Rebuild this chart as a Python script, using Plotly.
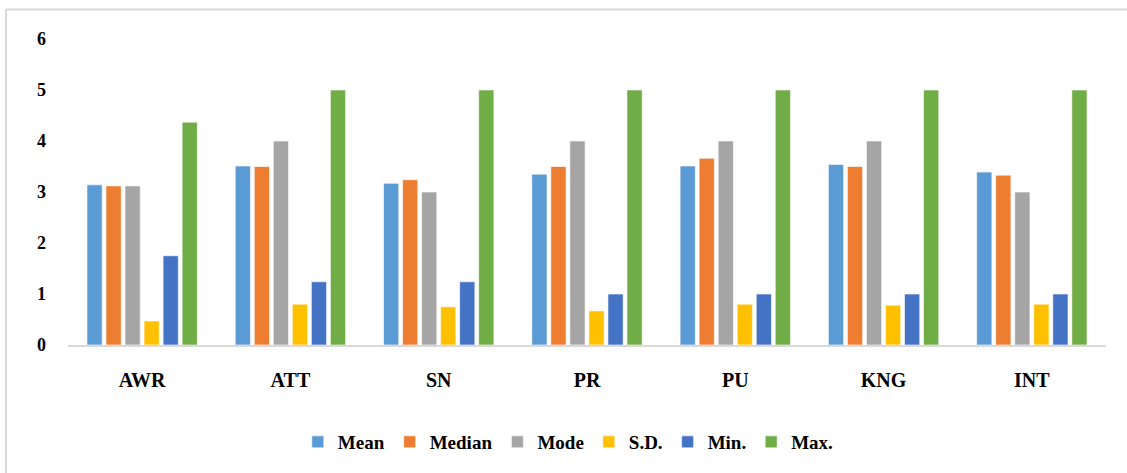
import plotly.graph_objects as go

categories = ["AWR", "ATT", "SN", "PR", "PU", "KNG", "INT"]
mean_vals = [3.14, 3.51, 3.17, 3.35, 3.51, 3.54, 3.39]
median_vals = [3.12, 3.50, 3.24, 3.50, 3.66, 3.50, 3.33]
mode_vals = [3.12, 4.00, 3.00, 4.00, 4.00, 4.00, 3.00]
sd_vals = [0.47, 0.80, 0.75, 0.67, 0.80, 0.78, 0.80]
min_vals = [1.75, 1.24, 1.24, 1.00, 1.00, 1.00, 1.00]
max_vals = [4.37, 5.00, 5.00, 5.00, 5.00, 5.00, 5.00]
y_ticks = [0, 1, 2, 3, 4, 5, 6]

series = [
    ("Mean", mean_vals, "#5B9BD5"),
    ("Median", median_vals, "#ED7D31"),
    ("Mode", mode_vals, "#A5A5A5"),
    ("S.D.", sd_vals, "#FFC000"),
    ("Min.", min_vals, "#4472C4"),
    ("Max.", max_vals, "#70AD47"),
]

FAM = "Liberation Serif"

fig = go.Figure()
for name, vals, color in series:
    fig.add_trace(go.Bar(
        x=categories, y=vals, name=name,
        marker=dict(color=color, line=dict(color="rgba(255,255,255,0.6)", width=1)),
    ))

fig.update_layout(
    width=1127, height=473,
    margin=dict(l=68, r=21, t=39, b=128, autoexpand=False),
    paper_bgcolor="white", plot_bgcolor="white",
    barmode="group", bargap=0.23, bargroupgap=0.2,
    font=dict(family=FAM, size=16, color="#000000", weight="bold"),
    showlegend=True,
    legend=dict(orientation="h", x=0.482, xanchor="center", y=-0.317, yanchor="middle",
                font=dict(family=FAM, size=19, color="#000000", weight="bold"),
                itemwidth=30, traceorder="normal"),
    xaxis=dict(showgrid=False, showline=True, linecolor="#D9D9D9", linewidth=2,
               ticks="", automargin=False,
               tickfont=dict(family=FAM, size=20, color="#000", weight="bold"),
               ticklabelstandoff=16),
    yaxis=dict(range=[0, 6], tickvals=y_ticks, showgrid=False, showline=False,
               zeroline=False, ticks="", ticklabelstandoff=21, automargin=False,
               tickfont=dict(family=FAM, size=18, color="#000", weight="bold")),
    shapes=[
        dict(type="line", xref="paper", yref="paper", x0=-0.0597, x1=-0.0597, y0=1.0964, y1=-0.45,
             line=dict(color="#D9D9D9", width=2)),
        dict(type="line", xref="paper", yref="paper", x0=-0.0597, x1=1.03, y0=1.0964, y1=1.0964,
             line=dict(color="#D9D9D9", width=2)),
    ],
)

fig.write_html("out.html", config={"displayModeBar": False},
               post_script="document.body.style.margin='0';")
